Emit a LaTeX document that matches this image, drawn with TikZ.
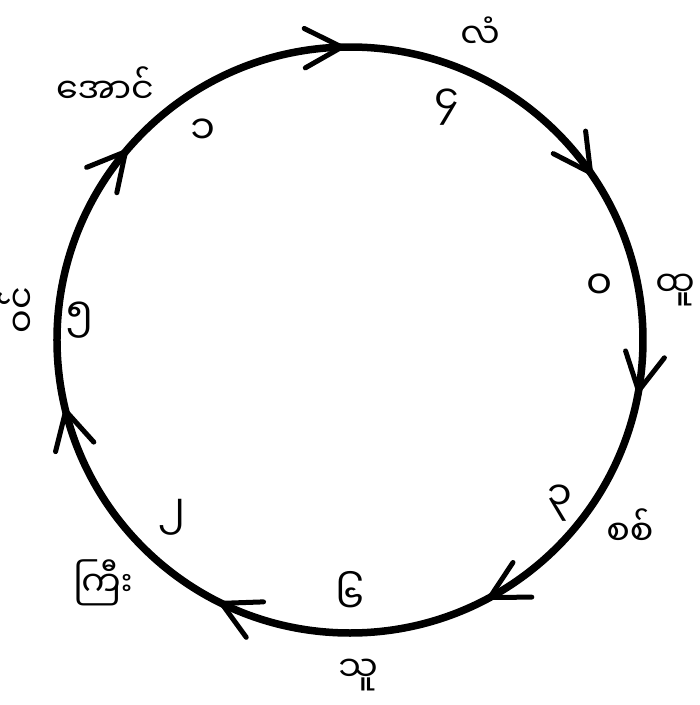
\documentclass[tikz,border=0pt]{standalone}
\usepackage{fontspec}
\newfontfamily\myan[Script=Myanmar]{Noto Sans Myanmar UI}
\usetikzlibrary{calc}
\tikzset{font=\myan}
\tikzset{word/.style={inner sep=0pt, font=\myan\fontsize{35}{40}\selectfont},
  digit/.style={inner sep=0pt, font=\myan\fontsize{40}{46}\selectfont}}

\begin{document}
\begin{tikzpicture}[x=1pt, y=1pt]
      \useasboundingbox (-350, -365) rectangle (350, 340); %
      \coordinate (O) at (0, 0); %
      \draw[line width=7.5pt] (O) circle[radius=293]; %
      % barbs along the cycle, clockwise
      \foreach \a in {91.6, 34.8, -10, -61.5, -116, -166, 140} {
        \draw[line width=5pt, line cap=round] (\a:293) -- ++(\a+90+28:42); %
        \draw[line width=5pt, line cap=round] (\a:293) -- ++(\a+90-28:42); %
      }
      \node[word] (aung) at (-245, 255) {အောင်}; %
      \node[digit] (one) at (-147, 208) {၁}; %
      \node[word] (lan) at (130, 307) {လံ}; %
      \node[digit] (four) at (97, 233) {၄}; %
      \node[word] (htu) at (325, 50) {ထူ}; %
      \node[digit] (zero) at (250, 53) {၀}; %
      \node[digit] (three) at (210, -163) {၃}; %
      \node[word] (sit) at (280, -187) {စစ်}; %
      \node[digit] (six) at (0, -252) {၆}; %
      \node[word] (thu) at (8, -335) {သူ}; %
      \node[digit] (two) at (-178, -177) {၂}; %
      \node[word] (kyi) at (-247, -243) {ကြီး}; %
      \node[word, rotate=90] (win) at (-333, 30) {ဝင်}; %
      \node[digit] (five) at (-270, 20) {၅}; %
\end{tikzpicture}
\end{document}
